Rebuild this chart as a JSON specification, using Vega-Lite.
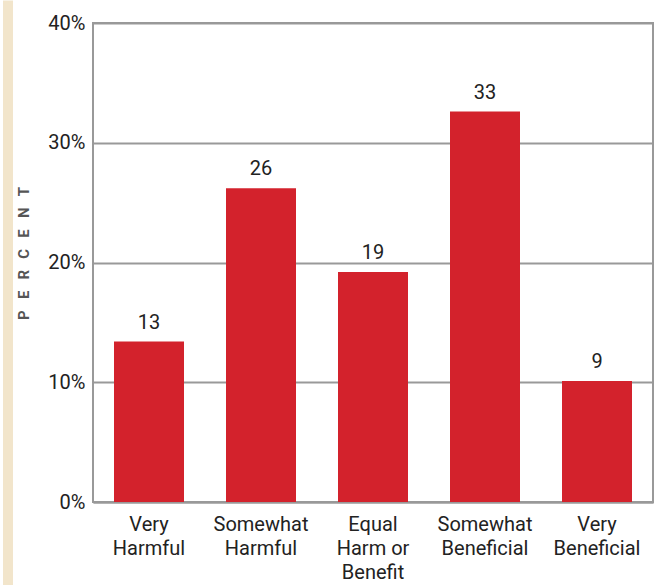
{
  "$schema": "https://vega.github.io/schema/vega-lite/v6.json",
  "background": "white",
  "padding": {"left": 3, "top": 0, "right": 2, "bottom": 0},
  "config": {"font": "Roboto", "concat": {"spacing": 2}},
  "hconcat": [
    {
      "width": 10,
      "height": 563,
      "data": {"values": [{"x0": 0, "x1": 1, "y0": 0, "y1": 1.04}]},
      "mark": {"type": "rect", "color": "#f2e5cb"},
      "encoding": {
        "x": {"field": "x0", "type": "quantitative", "scale": {"domain": [0, 1], "nice": false}, "axis": null},
        "x2": {"field": "x1"},
        "y": {"field": "y0", "type": "quantitative", "scale": {"domain": [0, 1], "nice": false}, "axis": null},
        "y2": {"field": "y1"}
      },
      "view": {"stroke": null}
    },
    {
      "width": 560,
      "height": 479,
      "data": {"values": [
        {"cat": "Very|Harmful", "value": 13.4, "label": "13"},
        {"cat": "Somewhat|Harmful", "value": 26.2, "label": "26"},
        {"cat": "Equal|Harm or|Benefit", "value": 19.2, "label": "19"},
        {"cat": "Somewhat|Beneficial", "value": 32.6, "label": "33"},
        {"cat": "Very|Beneficial", "value": 10.1, "label": "9"}
      ]},
      "view": {"stroke": "#999999", "strokeWidth": 2},
      "encoding": {
        "x": {
          "field": "cat", "type": "nominal", "sort": null,
          "scale": {"paddingInner": 0.375, "paddingOuter": 0.1875},
          "axis": {
            "title": null, "labelAngle": 0, "ticks": false,
            "domainColor": "#999999", "domainWidth": 2,
            "labelExpr": "split(datum.label, '|')",
            "labelFontSize": 20, "labelColor": "#222222",
            "labelLineHeight": 24, "labelPadding": 12, "labelBaseline": "top"
          }
        },
        "y": {
          "field": "value", "type": "quantitative",
          "scale": {"domain": [0, 40]},
          "axis": {
            "values": [0, 10, 20, 30, 40],
            "labelExpr": "datum.value + '%'",
            "title": "P\u00a0\u00a0\u00a0E\u00a0\u00a0\u00a0R\u00a0\u00a0\u00a0C\u00a0\u00a0\u00a0E\u00a0\u00a0\u00a0N\u00a0\u00a0\u00a0T",
            "titleFontSize": 15, "titleFontWeight": "bold",
            "titleColor": "#555555", "titlePadding": 16, "titleY": 230,
            "ticks": false, "domain": false,
            "gridColor": "#999999", "gridWidth": 2, "gridOpacity": 1,
            "labelFontSize": 20, "labelColor": "#222222", "labelPadding": 8
          }
        }
      },
      "layer": [
        {"mark": {"type": "bar", "color": "#d3222c"}},
        {
          "mark": {"type": "text", "baseline": "alphabetic", "dy": -13, "fontSize": 20, "color": "#222222"},
          "encoding": {"text": {"field": "label"}}
        }
      ]
    }
  ]
}
